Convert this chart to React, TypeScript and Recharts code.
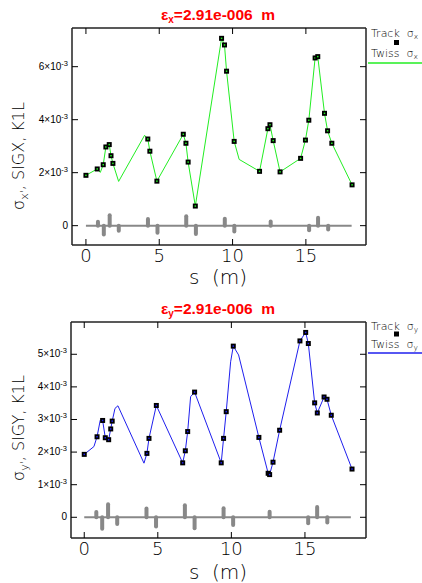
import React from "react";
import { ComposedChart, Line, Scatter, XAxis, YAxis, ReferenceArea, ReferenceLine } from "recharts";

// beam sizes are in units of 1e-3 m, s in m
const twissXS = [0, 0.77, 0.98, 1.18, 1.36, 1.59, 1.71, 1.84, 2.23, 4.0, 4.22, 4.36, 4.84, 6.64, 6.82, 6.97, 7.46, 9.25, 9.45, 9.59, 10.11, 10.45, 11.84, 12.41, 12.55, 12.77, 13.24, 14.64, 14.97, 15.2, 15.63, 15.81, 16.27, 16.48, 16.77, 18.15];
const twissX = [1.9, 2.14, 2.01, 2.3, 2.97, 3.06, 2.64, 2.35, 1.67, 3.41, 3.27, 2.81, 1.68, 3.45, 3.11, 2.4, 0.74, 7.07, 6.82, 5.83, 3.18, 2.5, 2.05, 3.66, 3.81, 3.21, 2.03, 2.54, 3.23, 3.98, 6.33, 6.38, 4.24, 3.58, 3.11, 1.54];
const trackXS = [0, 0.77, 1.18, 1.36, 1.59, 1.71, 1.84, 4.22, 4.36, 4.84, 6.64, 6.82, 6.97, 7.46, 9.25, 9.45, 9.59, 10.11, 11.84, 12.41, 12.55, 12.77, 13.24, 14.64, 14.97, 15.2, 15.63, 15.81, 16.27, 16.48, 16.77, 18.15];
const trackX = [1.9, 2.14, 2.3, 2.97, 3.06, 2.64, 2.35, 3.27, 2.81, 1.68, 3.45, 3.11, 2.4, 0.74, 7.07, 6.82, 5.83, 3.18, 2.05, 3.66, 3.81, 3.21, 2.03, 2.54, 3.23, 3.98, 6.33, 6.38, 4.24, 3.58, 3.11, 1.54];

const twissYS = [0, 0.66, 0.87, 1.09, 1.25, 1.43, 1.66, 1.8, 1.9, 2.09, 2.29, 4.06, 4.26, 4.4, 4.9, 6.69, 6.87, 7.03, 7.23, 7.5, 9.31, 9.47, 9.65, 9.95, 10.13, 10.49, 11.87, 12.5, 12.6, 12.83, 13.28, 14.66, 15.05, 15.23, 15.66, 15.84, 16.3, 16.5, 16.79, 18.2];
const twissY = [1.93, 2.17, 2.47, 2.98, 2.97, 2.44, 2.38, 2.71, 2.95, 3.34, 3.42, 1.66, 1.96, 2.42, 3.43, 1.67, 2.04, 2.63, 3.7, 3.84, 1.67, 2.42, 3.24, 4.77, 5.25, 4.98, 2.45, 1.35, 1.31, 1.69, 2.67, 5.41, 5.67, 5.33, 3.51, 3.2, 3.69, 3.62, 3.13, 1.48];
const trackYS = [0, 0.87, 1.25, 1.43, 1.66, 1.8, 1.9, 4.26, 4.4, 4.9, 6.69, 6.87, 7.03, 7.5, 9.31, 9.47, 9.65, 10.13, 11.87, 12.5, 12.6, 12.83, 13.28, 14.66, 15.05, 15.23, 15.66, 15.84, 16.3, 16.5, 16.79, 18.2];
const trackY = [1.93, 2.47, 2.97, 2.44, 2.38, 2.71, 2.95, 1.96, 2.42, 3.43, 1.67, 2.04, 2.63, 3.84, 1.67, 2.42, 3.24, 5.25, 2.45, 1.35, 1.31, 1.69, 2.67, 5.41, 5.67, 5.33, 3.51, 3.2, 3.69, 3.62, 3.13, 1.48];

// quadrupoles: position, length, K1L (drawn on the same axis)
const quadS = [0.82, 1.22, 1.62, 2.24, 4.23, 4.88, 6.84, 7.5, 9.47, 10.12, 12.6, 15.22, 15.83, 16.52];
const quadL = [0.28, 0.28, 0.28, 0.28, 0.28, 0.28, 0.28, 0.28, 0.28, 0.28, 0.3, 0.28, 0.28, 0.28];
const quadK1L = [0.225, -0.41, 0.465, -0.27, 0.33, -0.34, 0.43, -0.395, 0.34, -0.3, 0.23, -0.245, 0.375, -0.22];
const latticeEnd = 18.12;

const sTicks = [0, 5, 10, 15];
const ticksX = [0, 2, 4, 6];
const ticksY = [0, 1, 2, 3, 4, 5];

const toPts = (s: number[], v: number[]) => s.map((x, i) => ({ s: x, v: v[i] }));

const thin = "'DejaVu Sans', sans-serif";

function YTick(props: any) {
  const { x, y, payload } = props;
  const v = payload.value;
  if (v === 0)
    return <text x={x - 1} y={y + 3} textAnchor="end" fontSize={10} fontFamily="'Liberation Sans', Arial" fill="#000">0</text>;
  return (
    <text x={x - 1} y={y + 3} textAnchor="end" fontSize={10} fontFamily="'Liberation Sans', Arial" fill="#000">
      {v}×10<tspan dy={-4} fontSize={7.5}>-3</tspan>
    </text>
  );
}

function STick(props: any) {
  const { x, y, payload } = props;
  return (
    <text x={x} y={y + 13} textAnchor="middle" fontSize={18} fontWeight={200} fontFamily={thin} fill="#000">
      {payload.value}
    </text>
  );
}

const blank = () => <g />;

function marker(color: string) {
  return (p: any) => (
    <g>
      <rect x={p.cx - 2.5} y={p.cy - 2.5} width={5} height={5} fill="#000" />
      <rect x={p.cx - 0.75} y={p.cy - 0.75} width={1.5} height={1.5} fill={color} />
    </g>
  );
}

function pill(up: boolean) {
  return (p: any) => {
    const cx = p.x + p.width / 2;
    const y = up ? p.y : p.y - 2;
    const h = p.height + 2;
    return <rect x={cx - 2} y={y} width={4} height={h} rx={2} fill="#888" />;
  };
}

const frame = { stroke: "#222", strokeWidth: 1.5 };

function Panel(props: {
  twiss: { s: number; v: number }[];
  track: { s: number; v: number }[];
  color: string;
  sDomain: number[];
  vDomain: number[];
  vTicks: number[];
  top: number;
  left: number;
  height: number;
}) {
  const { twiss, track, color, sDomain, vDomain, vTicks, top, left, height } = props;
  return (
    <ComposedChart width={422} height={height} margin={{ top: top - 1, left: left - 1, right: 55, bottom: 44 }}>
      <XAxis xAxisId="b" type="number" dataKey="s" domain={sDomain} ticks={sTicks} allowDataOverflow height={1}
        tickSize={-6} tickMargin={10} tick={<STick />} axisLine={frame} tickLine={{ stroke: "#000" }} />
      <XAxis xAxisId="t" orientation="top" type="number" dataKey="s" domain={sDomain} ticks={sTicks} allowDataOverflow height={1}
        tickSize={-6} tick={blank} axisLine={frame} tickLine={{ stroke: "#000" }} />
      <YAxis yAxisId="l" type="number" dataKey="v" domain={vDomain} ticks={vTicks} allowDataOverflow width={1}
        tickSize={-6} tickMargin={9} tick={<YTick />} axisLine={frame} tickLine={{ stroke: "#000" }} />
      <YAxis yAxisId="r" orientation="right" type="number" dataKey="v" domain={vDomain} ticks={vTicks} allowDataOverflow width={1}
        tickSize={-6} tick={blank} axisLine={frame} tickLine={{ stroke: "#000" }} />
      <ReferenceLine xAxisId="b" yAxisId="l" segment={[{ x: 0, y: 0 }, { x: latticeEnd, y: 0 }]} stroke="#888" strokeWidth={2} />
      {quadS.map((s, i) => (
        <ReferenceArea key={i} xAxisId="b" yAxisId="l" x1={s - quadL[i] / 2} x2={s + quadL[i] / 2}
          y1={0} y2={quadK1L[i]} shape={pill(quadK1L[i] > 0)} />
      ))}
      <Line xAxisId="b" yAxisId="l" data={twiss} dataKey="v" type="linear" stroke={color} strokeWidth={1}
        dot={false} activeDot={false} isAnimationActive={false} />
      <Scatter xAxisId="b" yAxisId="l" data={track} dataKey="v" shape={marker(color)} isAnimationActive={false} />
    </ComposedChart>
  );
}

export default function App() {
  return (
    <div style={{ position: "absolute", left: 0, top: 0, width: 422, height: 583, background: "#fff" }}>
      <div style={{ position: "absolute", left: 0, top: 0 }}>
        <Panel twiss={toPts(twissXS, twissX)} track={toPts(trackXS, trackX)} color="#22ee22"
          sDomain={[-0.95, 19.1]} vDomain={[-0.73, 7.46]} vTicks={ticksX} top={28} left={72} height={290} />
      </div>
      <div style={{ position: "absolute", left: 0, top: 290 }}>
        <Panel twiss={toPts(twissYS, twissY)} track={toPts(trackYS, trackY)} color="#1f1fee"
          sDomain={[-0.9, 19.15]} vDomain={[-0.635, 5.99]} vTicks={ticksY} top={32} left={71} height={293} />
      </div>
      <svg width={422} height={583} style={{ position: "absolute", left: 0, top: 0, pointerEvents: "none" }}>
        {/* titles */}
        <text x={218} y={20} textAnchor="middle" fill="#ff0000" fontSize={15.5} fontWeight="bold" fontFamily="'Liberation Sans', Arial" style={{ whiteSpace: "pre" }}>
          ε<tspan dy={3} fontSize={10}>x</tspan><tspan dy={-3}>=2.91e-006  m</tspan>
        </text>
        <text x={218} y={314} textAnchor="middle" fill="#ff0000" fontSize={15.5} fontWeight="bold" fontFamily="'Liberation Sans', Arial" style={{ whiteSpace: "pre" }}>
          ε<tspan dy={3} fontSize={10}>y</tspan><tspan dy={-3}>=2.91e-006  m</tspan>
        </text>
        {/* axis labels */}
        <text x={218} y={284} textAnchor="middle" fontSize={20} fontWeight={200} fontFamily={thin} style={{ whiteSpace: "pre" }}>s  (m)</text>
        <text x={218} y={579} textAnchor="middle" fontSize={20} fontWeight={200} fontFamily={thin} style={{ whiteSpace: "pre" }}>s  (m)</text>
        <text transform="translate(24,156) rotate(-90)" textAnchor="middle" fontSize={16} fontWeight={200} fontFamily={thin}>
          σ<tspan dy={4} fontSize={11}>x'</tspan><tspan dy={-4}>, SIGX, K1L</tspan>
        </text>
        <text transform="translate(24,428) rotate(-90)" textAnchor="middle" fontSize={16} fontWeight={200} fontFamily={thin}>
          σ<tspan dy={4} fontSize={11}>y'</tspan><tspan dy={-4}>, SIGY, K1L</tspan>
        </text>
        {/* legends */}
        <g fontSize={11} fontFamily={thin} fontWeight={200}>
          <text x={371} y={37} style={{ whiteSpace: "pre" }}>Track  σ<tspan dy={2} fontSize={7.5}>x</tspan></text>
          <rect x={394} y={40} width={5} height={5} fill="#000" />
          <text x={371} y={57} style={{ whiteSpace: "pre" }}>Twiss  σ<tspan dy={2} fontSize={7.5}>x</tspan></text>
          <line x1={368} x2={422} y1={63} y2={63} stroke="#22ee22" strokeWidth={1.5} />
          <text x={371} y={330} style={{ whiteSpace: "pre" }}>Track  σ<tspan dy={2} fontSize={7.5}>y</tspan></text>
          <rect x={394} y={331.5} width={5} height={5} fill="#000" />
          <text x={371} y={348} style={{ whiteSpace: "pre" }}>Twiss  σ<tspan dy={2} fontSize={7.5}>y</tspan></text>
          <line x1={368} x2={422} y1={353} y2={353} stroke="#1f1fee" strokeWidth={1.5} />
        </g>
      </svg>
    </div>
  );
}
